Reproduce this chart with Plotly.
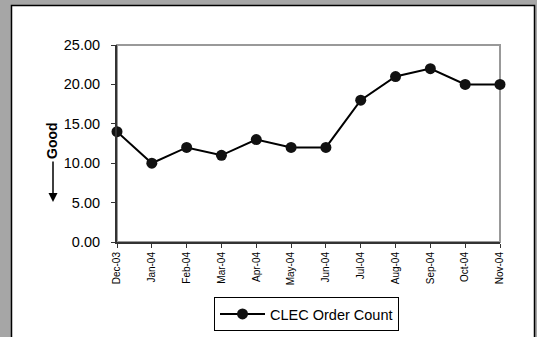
import plotly.graph_objects as go

months = ["Dec-03", "Jan-04", "Feb-04", "Mar-04", "Apr-04", "May-04", "Jun-04",
          "Jul-04", "Aug-04", "Sep-04", "Oct-04", "Nov-04"]
order_count = [14, 10, 12, 11, 13, 12, 12, 18, 21, 22, 20, 20]
series_name = "CLEC Order Count"
y_ticks = [0, 5, 10, 15, 20, 25]

W, H = 537, 337
L, R, T, B = 117, 37, 45, 95
pw, ph = W - L - R, H - T - B

def px(x):
    return (x - L) / pw

def py(y):
    return (H - B - y) / ph

fig = go.Figure()
fig.add_trace(go.Scatter(
    x=months, y=order_count, name=series_name, mode="lines+markers",
    line=dict(color="#000000", width=2),
    marker=dict(color="#111111", size=11),
    cliponaxis=False,
))

font = "Liberation Sans, Arial, sans-serif"
fig.update_layout(
    width=W, height=H,
    margin=dict(l=L, r=R, t=T, b=B, pad=0, autoexpand=False),
    paper_bgcolor="#a6a6a6",
    plot_bgcolor="white",
    font=dict(family=font, color="#000000"),
    showlegend=True,
    legend=dict(
        x=px(214), y=py(297), xanchor="left", yanchor="top",
        bordercolor="#000000", borderwidth=1, bgcolor="white",
        font=dict(size=14.5, family=font),
        itemwidth=45, entrywidth=140,
    ),
    xaxis=dict(
        type="category", range=[0, len(months) - 1],
        showgrid=False, zeroline=False,
        showline=True, linecolor="#333333", linewidth=2,
        ticks="outside", ticklen=4, tickcolor="#333333",
        tickangle=-90, tickfont=dict(size=10, family=font),
    ),
    yaxis=dict(
        range=[0, 25], tickvals=y_ticks, tickformat=".2f",
        showgrid=False, zeroline=False,
        showline=True, linecolor="#333333", linewidth=2,
        ticks="outside", ticklen=4, tickcolor="#333333",
        ticklabelstandoff=8,
        tickfont=dict(size=14.5, family=font),
    ),
    shapes=[
        dict(type="rect", xref="paper", yref="paper",
             x0=px(11.5), x1=px(534.5), y0=py(345), y1=py(5.5),
             line=dict(color="#000000", width=1.5), fillcolor="white", layer="below"),
        dict(type="rect", xref="paper", yref="paper",
             x0=0, x1=1, y0=0, y1=1,
             line=dict(color="#999999", width=2), layer="below"),
    ],
    annotations=[
        dict(text="<b>Good</b>", xref="paper", yref="paper",
             x=px(52), y=py(141), textangle=-90, showarrow=False,
             font=dict(size=14, family=font), xanchor="center", yanchor="middle"),
        dict(text="", xref="paper", yref="paper", x=px(53), y=py(202),
             ax=0, ay=-42, showarrow=True, arrowhead=2, arrowsize=1.2,
             arrowwidth=1.5, arrowcolor="#000000"),
    ],
)

fig.write_html(
    "out.html",
    config={"displayModeBar": False},
    post_script="document.body.style.margin='0';document.body.style.overflow='hidden';",
)
